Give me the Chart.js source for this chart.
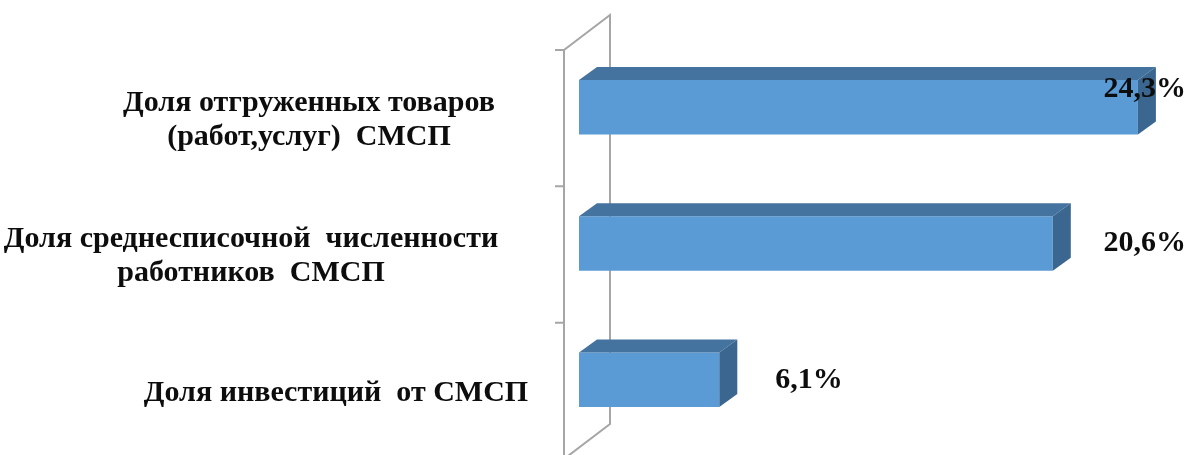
<!DOCTYPE html>
<html>
<head>
<meta charset="utf-8">
<script src="https://cdn.jsdelivr.net/npm/chart.js@4.4.1/dist/chart.umd.min.js"></script>
<style>
  html, body { margin: 0; padding: 0; background: #fff; }
  #wrap { width: 1192px; height: 455px; }
</style>
</head>
<body>
<div id="wrap"><canvas id="chart"></canvas></div>
<script>
// categories, top to bottom
const categories = [
  ["Доля отгруженных товаров", "(работ,услуг)  СМСП"],
  ["Доля среднесписочной  численности", "работников  СМСП"],
  ["Доля инвестиций  от СМСП"]
];
const values = [24.3, 20.6, 6.1];

// horizontal shift of each category label block, relative to the value axis origin
const labelShift = [-270, -328, -243];

const FRONT = "#5B9BD5";
const TOP = "#44739F";
const SIDE = "#3B6690";
const WALL = "#A6A6A6";
const DEPTH_X = 18, DEPTH_Y = -13;
const FONT = "bold 30px 'Liberation Serif', 'DejaVu Serif', serif";

function fmt(v) {
  return v.toFixed(1).replace(".", ",") + "%";
}

// walls of the 3D plot, drawn behind the bars
const wallsPlugin = {
  id: "walls",
  beforeDatasetsDraw(chart) {
    const ctx = chart.ctx;
    const x = chart.scales.x;
    const x0 = x.getPixelForValue(0);
    const top = chart.chartArea.top + 11;
    const bottom = chart.chartArea.bottom + 11;
    const fx = x0 - 15, bx = x0 + 31, dy = -35;
    ctx.save();
    ctx.strokeStyle = WALL;
    ctx.lineWidth = 2;
    ctx.beginPath();
    ctx.moveTo(fx, bottom + 10);
    ctx.lineTo(fx, top);
    ctx.lineTo(bx, top + dy);
    ctx.lineTo(bx, bottom + dy);
    ctx.lineTo(fx, bottom);
    ctx.stroke();
    // tick marks at category boundaries
    const band = (chart.chartArea.bottom - chart.chartArea.top) / categories.length;
    ctx.beginPath();
    for (let i = 0; i <= categories.length; i++) {
      const ty = top + band * i;
      ctx.moveTo(fx - 9, ty);
      ctx.lineTo(fx, ty);
    }
    ctx.stroke();
    ctx.restore();
  },
  afterDatasetsDraw(chart) {
    const ctx = chart.ctx;
    const meta = chart.getDatasetMeta(0);
    ctx.save();
    meta.data.forEach(function (bar) {
      const l = bar.base, r = bar.x;
      const t = bar.y - bar.height / 2, b = bar.y + bar.height / 2;
      // top face
      ctx.fillStyle = TOP;
      ctx.beginPath();
      ctx.moveTo(l, t);
      ctx.lineTo(l + DEPTH_X, t + DEPTH_Y);
      ctx.lineTo(r + DEPTH_X, t + DEPTH_Y);
      ctx.lineTo(r, t);
      ctx.closePath();
      ctx.fill();
      // side face
      ctx.fillStyle = SIDE;
      ctx.beginPath();
      ctx.moveTo(r, t);
      ctx.lineTo(r + DEPTH_X, t + DEPTH_Y);
      ctx.lineTo(r + DEPTH_X, b + DEPTH_Y);
      ctx.lineTo(r, b);
      ctx.closePath();
      ctx.fill();
    });
    ctx.restore();
  },
  afterDraw(chart) {
    const ctx = chart.ctx;
    const x = chart.scales.x, y = chart.scales.y;
    const x0 = x.getPixelForValue(0);
    ctx.save();
    ctx.font = FONT;
    ctx.fillStyle = "#0d0d0d";
    ctx.textBaseline = "middle";
    // category labels
    ctx.textAlign = "center";
    categories.forEach(function (lines, i) {
      const cy = y.getPixelForTick(i) + 13;
      const lh = 34;
      const startY = cy - (lines.length - 1) * lh / 2;
      lines.forEach(function (line, j) {
        ctx.fillText(line, x0 + labelShift[i], startY + j * lh);
      });
    });
    // value labels: outside the bar end, pulled back inside the canvas if needed
    ctx.textAlign = "left";
    const meta = chart.getDatasetMeta(0);
    meta.data.forEach(function (bar, i) {
      const txt = fmt(values[i]);
      const w = ctx.measureText(txt).width;
      let lx = Math.min(bar.x + 56, chart.width - 6 - w);
      let ly = bar.y;
      if (lx < bar.x + DEPTH_X + 4) ly = bar.y - 18;
      ctx.fillText(txt, lx, ly);
    });
    ctx.restore();
  }
};

new Chart(document.getElementById("chart"), {
  type: "bar",
  data: {
    labels: categories,
    datasets: [{
      data: values,
      backgroundColor: FRONT,
      borderWidth: 0,
      barPercentage: 0.4,
      categoryPercentage: 1
    }]
  },
  options: {
    indexAxis: "y",
    responsive: true,
    maintainAspectRatio: false,
    animation: false,
    layout: { padding: { left: 579, right: 15, top: 39, bottom: 7 } },
    plugins: { legend: { display: false }, tooltip: { enabled: false } },
    scales: {
      x: { display: false, min: 0, max: 26 },
      y: { display: false }
    }
  },
  plugins: [wallsPlugin]
});
</script>
</body>
</html>
